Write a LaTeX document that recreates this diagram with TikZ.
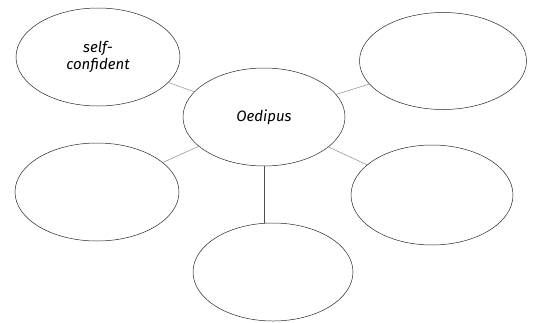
\documentclass[tikz,border=0pt]{standalone}
\usepackage{fontspec}
\setmainfont{Fira Sans}
\usetikzlibrary{shapes.geometric}
\begin{document}
\begin{tikzpicture}[x=1pt,y=-1pt,
  bubble/.style={ellipse,draw=black!85,line width=0.5pt,minimum width=164pt,minimum height=98pt,inner sep=0pt,align=center,
    font=\itshape\fontsize{15}{17}\selectfont},
  link/.style={draw=black!45,line width=0.5pt}]
\useasboundingbox (0,0) rectangle (535,322);
\node[bubble] (tl) at (98,57) {self-\\confident};
\node[bubble,minimum width=162pt] (c) at (264,117) {Oedipus};
\node[bubble,minimum width=167pt,minimum height=97pt] (tr) at (443,61) {};
\node[bubble] (bl) at (97,192) {};
\node[bubble,minimum width=162pt,minimum height=100pt] (br) at (432,195) {};
\node[bubble,minimum width=160pt] (b) at (273,272) {};
\draw[link] (c) -- (tl);
\draw[link] (c) -- (tr);
\draw[link] (c) -- (bl);
\draw[link] (c) -- (br);
\draw[link,draw=black!70] (c.south) -- (c.south |- b.north);
\end{tikzpicture}
\end{document}
